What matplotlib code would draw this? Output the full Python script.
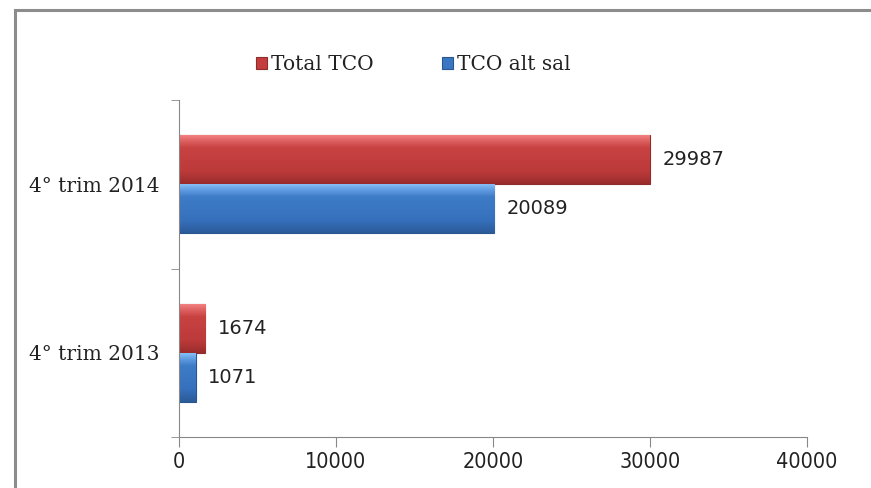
import numpy as np
import matplotlib.pyplot as plt
from matplotlib.patches import Rectangle
from matplotlib.colors import LinearSegmentedColormap

categories = ['4° trim 2013', '4° trim 2014']
total_tco = [1674, 29987]
tco_alt_sal = [1071, 20089]
series_names = ['Total TCO', 'TCO alt sal']
x_ticks = [0, 10000, 20000, 30000, 40000]

red = '#C43D3D'
blue = '#3A76C2'
red_cmap = LinearSegmentedColormap.from_list(
    'r', [(0, '#9A2C2C'), (0.25, '#BC3A3A'), (0.75, '#C94242'), (0.9, '#E06464'), (1, '#F28080')])
blue_cmap = LinearSegmentedColormap.from_list(
    'b', [(0, '#2A5A98'), (0.25, '#3670BC'), (0.75, '#3E7CC8'), (0.9, '#64A0E4'), (1, '#86BEF4')])

fig = plt.figure(figsize=(8.71, 4.88), dpi=100)
ax = fig.add_axes([179/871, 1 - 437/488, (807-179)/871, (437-100)/488])

# 图表外框
fig.patches.append(Rectangle((15/871, -0.1), 1.0, 1 - 10/488 + 0.1,
                             transform=fig.transFigure, fill=False,
                             ec='#8C8C8C', lw=2.2))

y = np.arange(len(categories))
h = 0.29
b1 = ax.barh(y + h/2, total_tco, height=h, color=red, edgecolor='#8E2B2B',
             lw=0.8, label=series_names[0])
b2 = ax.barh(y - h/2, tco_alt_sal, height=h, color=blue, edgecolor='#2A5690',
             lw=0.8, label=series_names[1])

# 渐变效果
grad = np.linspace(0, 1, 64).reshape(-1, 1)
for bars, cm in ((b1, red_cmap), (b2, blue_cmap)):
    for p in bars.patches:
        x0, y0 = p.get_x(), p.get_y()
        im = ax.imshow(grad, cmap=cm, aspect='auto', origin='lower',
                       extent=(x0, x0 + p.get_width(), y0, y0 + p.get_height()),
                       zorder=p.get_zorder() + 0.1)
        im.set_clip_path(p)

for bars in (b1, b2):
    ax.bar_label(bars, labels=[str(v) for v in bars.datavalues], padding=9,
                 fontsize=14, family='DejaVu Sans', color='#222222')

ax.set_xlim(0, 40000)
ax.set_ylim(-0.5, 1.5)
ax.set_xticks(x_ticks)
ax.set_xticklabels([str(t) for t in x_ticks], family='DejaVu Sans',
                   fontstretch='condensed', fontsize=15.5, color='#222222')
ax.set_yticks(y)
ax.set_yticklabels(categories, family='DejaVu Serif', fontsize=14.5, color='#222222')
ax.tick_params(axis='y', length=0, pad=14)
ax.set_yticks([-0.5, 0.5, 1.5], minor=True)
ax.tick_params(axis='y', which='minor', length=6, color='#888888')
ax.tick_params(axis='x', length=7, color='#888888', pad=4)

for s in ['top', 'right']:
    ax.spines[s].set_visible(False)
for s in ['left', 'bottom']:
    ax.spines[s].set_color('#888888')

fig.legend(handles=[b1, b2], labels=series_names, loc='center',
           bbox_to_anchor=(413/871, 1 - 65/488), ncol=2, frameon=False,
           prop={'family': 'DejaVu Serif', 'size': 14.5},
           handlelength=0.55, handleheight=0.55, handletextpad=0.2,
           columnspacing=3.4, labelcolor='#222222')

plt.savefig('out.png', dpi=100)
